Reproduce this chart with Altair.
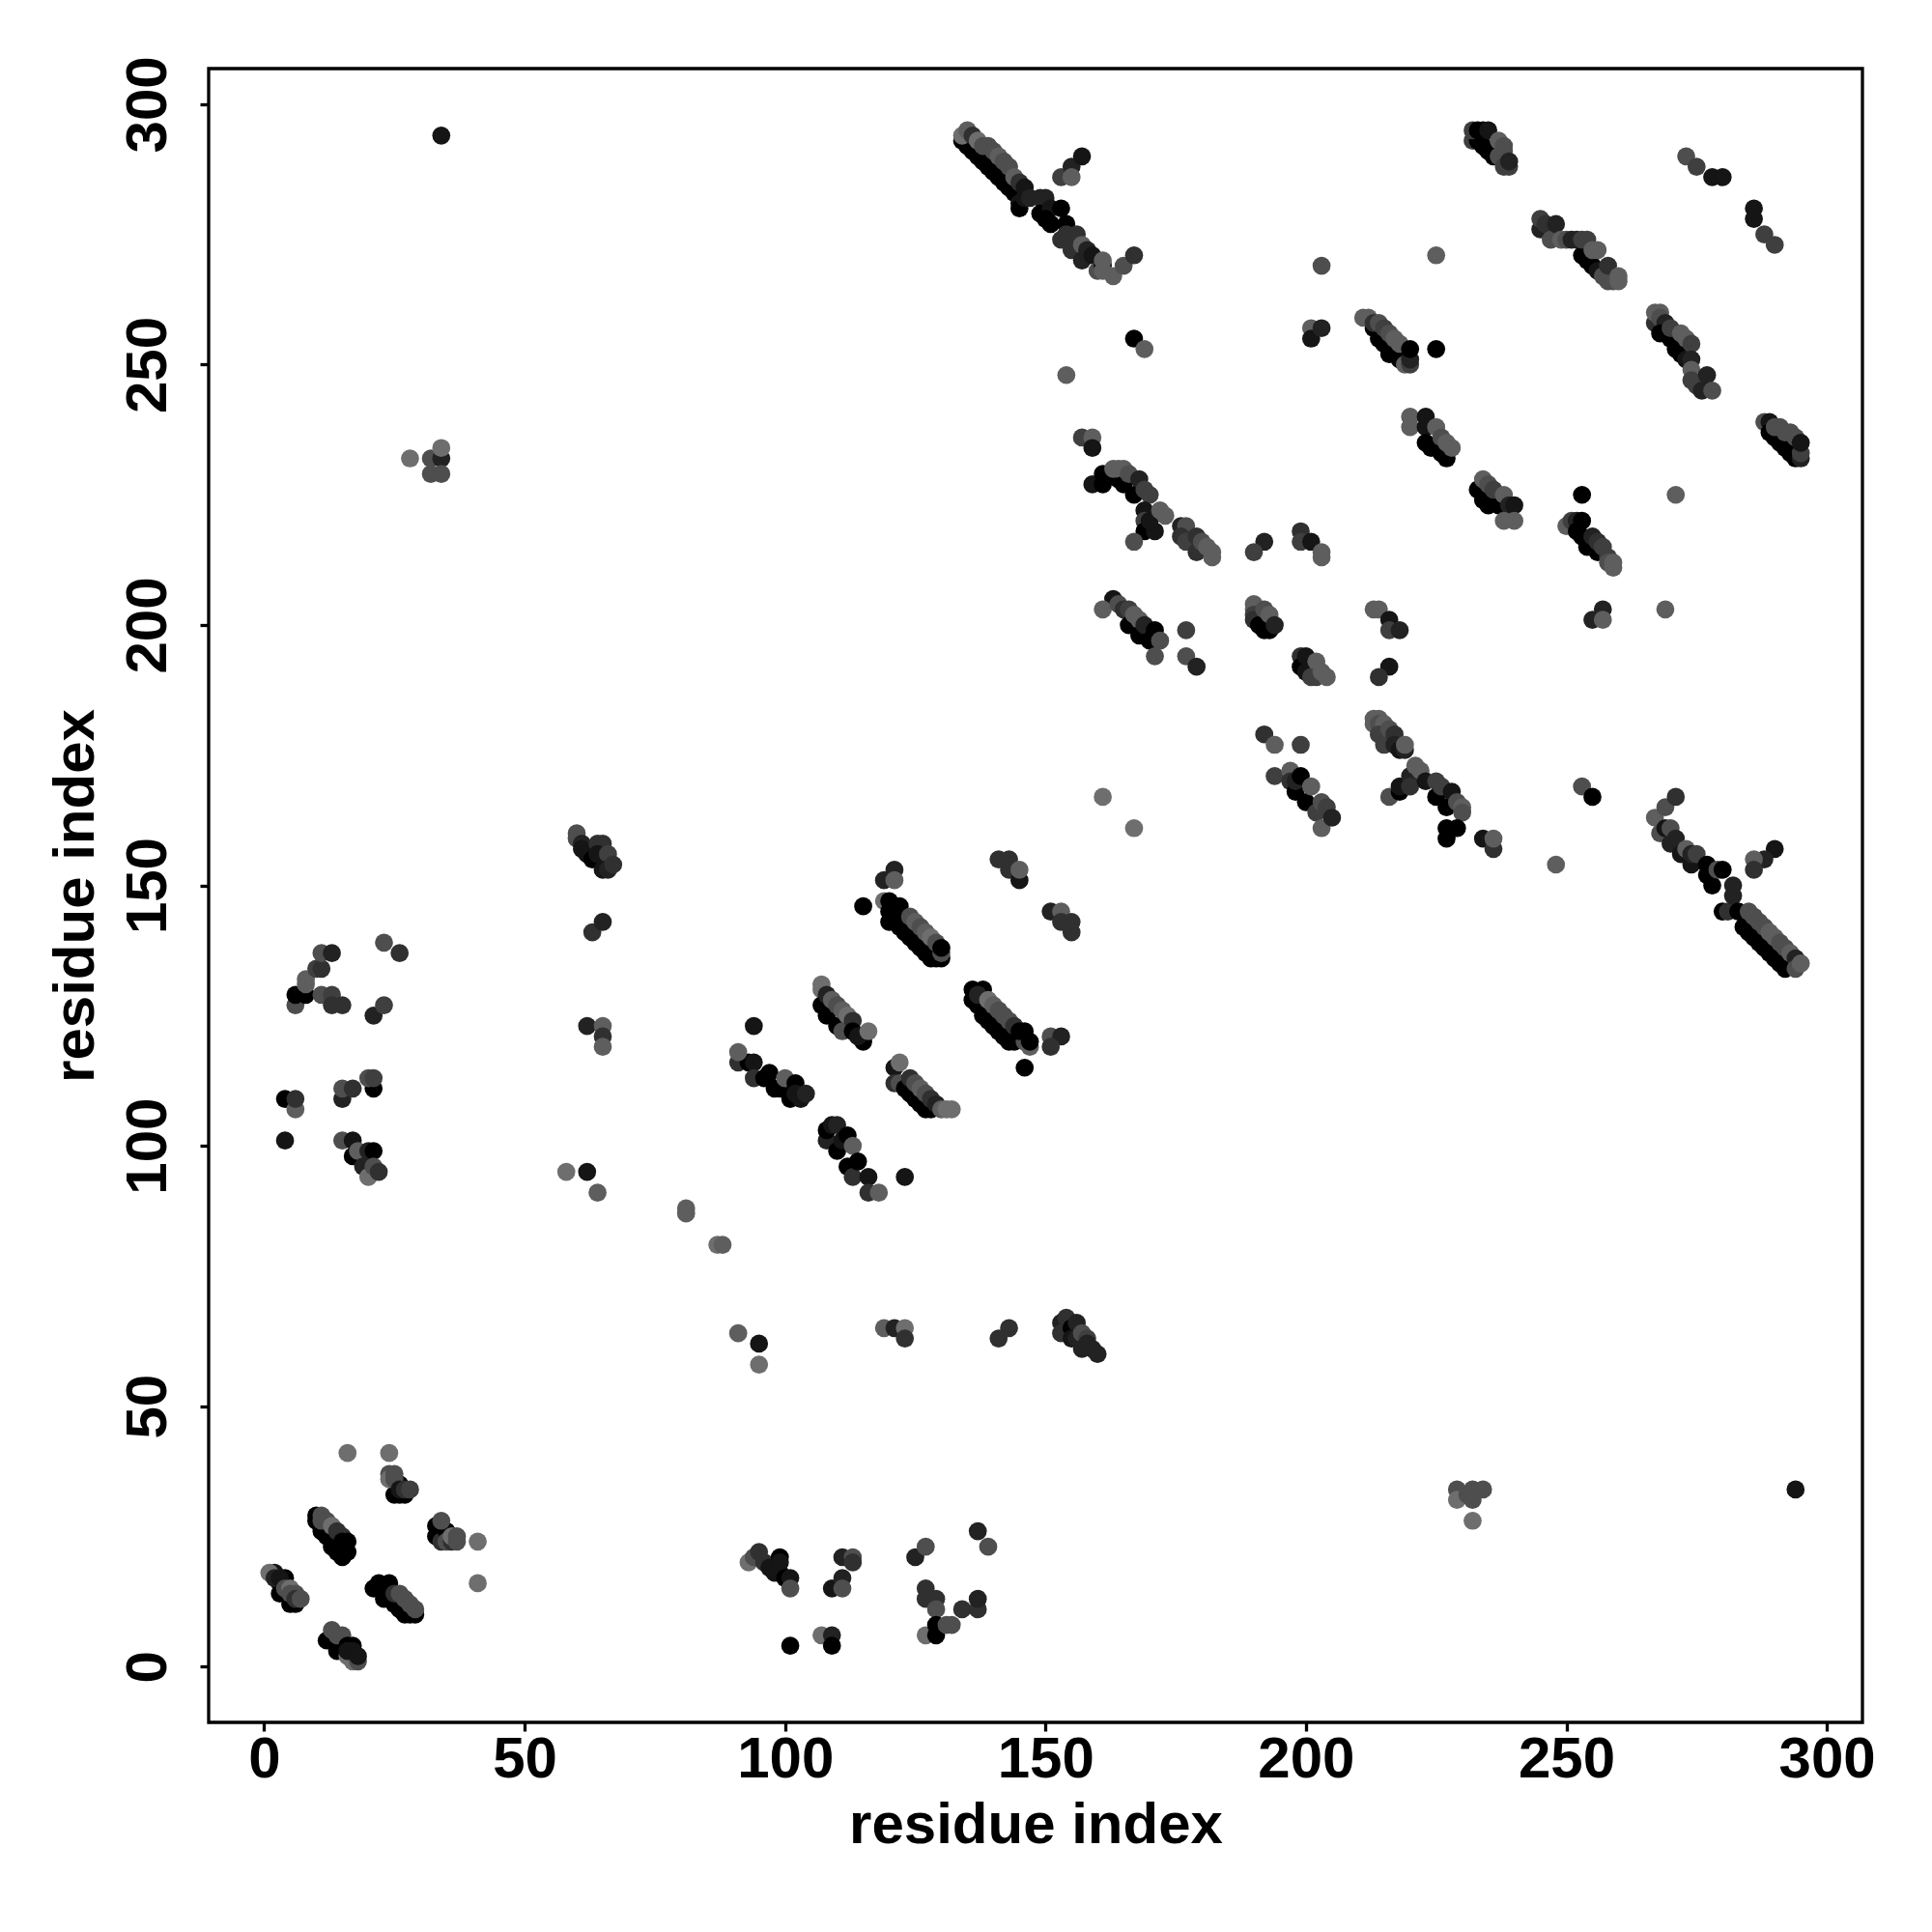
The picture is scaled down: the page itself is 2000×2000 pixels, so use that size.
import altair as alt
import pandas as pd

# Each cluster: (residue i, residue j, level) - level 0 is darkest, 7 is lightest
low_a = [(3,16,1),(3,14,0),(4,17,0),(2,18,1),(5,12,0),(6,12,0),(1,18,7),(2,17,2),(3,17,1),(4,15,5),(5,15,7),(5,14,5),(6,14,5),(6,13,3),(7,13,5)]
low_b = [(12,5,0),(14,3,0),(16,2,7),(17,1,7),(18,1,5),(13,6,0),(13,7,5),(14,6,5),(15,6,5),(16,4,0),(17,4,0),(16,3,1),(17,3,1),(18,2,1)]
low_c = [(10,28,0),(10,29,0),(11,26,0),(12,25,0),(13,23,0),(14,22,0),(15,21,0),(16,22,0),(15,23,0),(11,29,5),(11,28,5),(12,28,5),(13,27,7),(14,26,3),(15,25,3),(15,24,0),(16,24,0)]
low_d = [(21,15,0),(22,16,0),(23,15,0),(24,16,0),(23,13,0),(24,14,0),(25,12,0),(26,11,0),(27,10,0),(28,10,0),(29,10,0),(25,14,3),(26,14,5),(27,13,5),(28,12,5),(29,11,5)]
low_e = [(25,33,0),(26,33,0),(27,33,0),(26,35,0),(24,37,5),(24,36,7),(25,37,5),(25,36,5),(26,34,1),(27,34,3),(28,34,4)]
low_f = [(33,27,0),(33,25,0),(34,26,0),(34,24,3),(35,26,0),(35,24,5),(36,24,3),(34,28,5),(36,25,7),(37,25,5),(37,24,5),(41,24,7),(41,16,7),(16,41,7),(24,41,7)]
low_mid = [(93,20,7),(94,21,5),(95,22,3),(96,20,3),(97,19,1),(98,18,1),(99,21,0),(99,20,1),(99,18,1),(100,17,0),(101,17,1),(101,15,5),(101,4,0),
           (109,15,1),(111,21,2),(111,17,2),(111,15,5),(113,21,5),(113,20,3),(107,6,7),(109,6,2),(109,4,0),
           (125,21,2),(127,23,5),(127,15,3),(127,13,3),(129,13,3),(129,11,5),(127,6,7),(129,8,0),(129,6,0),(131,8,5),(132,8,5),(134,11,3),(137,11,3),(137,13,2),(137,26,2),(139,23,5)]
low_right = [(229,34,5),(229,32,7),(231,33,5),(232,34,5),(232,32,5),(234,34,5),(232,28,7),(294,34,1)]
top_far = [(34,294,1),(28,232,7),(32,232,5),(32,229,5),(34,232,2),(34,234,7),(34,229,5)]
left_a = [(6,127,5),(6,129,0),(8,129,0),(8,131,6),(8,132,6),(10,134,4),(11,134,3),(11,137,5),(13,137,2),(11,129,5),(13,129,4),(13,127,3),(15,127,3),(21,125,2),(23,127,4),(23,139,5),(26,137,3)]
left_b = [(4,109,0),(6,107,6),(6,109,3),(4,101,1),(15,109,2),(15,111,5),(17,111,3),(21,111,0),(20,113,5),(21,113,4),(15,101,5),(17,101,1),(17,98,0),(18,99,6),(19,96,2),(20,99,2),(21,99,0),(20,94,7),(21,96,5),(22,95,3)]
left_c = [(62,123,2),(65,123,6),(65,121,3),(65,119,6),(63,141,3),(65,143,2),(60,160,5),(60,159,5),(61,158,2),(61,157,1),(62,156,1),(63,155,0),(64,158,3),(65,158,3),(64,156,1),(66,156,4),(65,153,1),(66,153,2),(67,154,3)]
mid_left = [(58,95,7),(62,95,1),(64,91,6),(81,88,6),(81,87,6),(87,81,7),(88,81,6),(91,64,6),(95,62,1),(95,58,7)]
low_mid2 = [(119,65,6),(121,65,2),(123,65,7),(123,63,3),(141,63,3),(143,65,3),
            (153,66,2),(153,64,3),(154,67,3),(155,65,0),(155,63,1),(156,66,2),(156,63,2),(157,64,5),(157,61,2),(158,63,4),(158,62,2),(159,61,2),(160,60,2)]
band_a = [(94,123,1),(91,116,3),(93,116,0),(94,116,1),(94,113,3),(91,118,6),(96,113,0),(97,114,0),(98,111,0),(99,111,0),(100,112,0),(100,113,6),(101,109,0),(102,112,0),(102,110,1),(103,109,1),(104,110,2)]
band_b = [(108,101,2),(108,103,0),(109,104,1),(110,104,2),(110,99,0),(111,101,1),(112,102,0),(112,96,0),(113,100,6),(113,94,3),(114,97,0),(116,94,1),(116,91,3),(118,91,6),(123,94,1)]
band_c = [(107,131,7),(107,130,7),(107,127,0),(108,129,2),(108,125,0),(109,128,6),(110,123,0),(110,127,5),(111,126,6),(112,125,7),(111,122,5),(113,124,3),(113,122,0),(115,120,0),(114,121,1),(116,122,7)]
band_d = [(121,115,1),(121,112,3),(122,116,7),(122,112,5),(123,111,0),(124,110,0),(125,109,0),(126,108,0),(127,107,0),(128,107,0),(124,113,3),(125,112,5),(126,111,6),(127,110,5),(128,109,3),(129,108,2),(130,107,6),(131,107,7),(132,107,7)]
band_e = [(115,146,0),(119,151,2),(121,153,2),(121,151,6),(119,147,7),(120,147,0),(120,145,0),(120,143,0),(122,146,0),(121,144,0),(122,142,0),(123,141,0),(124,140,0),(125,139,0),(126,138,0),(127,137,0),(128,136,0),(129,136,0),(130,136,0),
          (124,144,5),(125,143,6),(126,142,5),(127,141,6),(128,140,7),(129,139,5),(130,137,5),(130,138,0)]
band_f = [(141,155,3),(143,155,3),(143,153,3),(145,151,1),(145,153,6),(151,145,2),(153,145,6),(153,143,3),(155,143,3),(155,141,3),(151,121,5),(153,121,2),(151,119,3),(167,161,7),(161,167,7)]
band_g = [(136,130,0),(138,130,0),(136,128,0),(137,127,0),(138,125,0),(139,124,0),(140,123,0),(141,122,0),(142,121,0),(143,120,0),(144,120,0),(146,120,5),(147,119,6),
          (137,129,2),(139,128,7),(140,127,6),(141,126,5),(142,125,5),(143,124,5),(144,123,3),(145,122,0),(146,122,0),(147,120,0),(146,115,0)]
diag_a = [(134,293,0),(135,292,0),(136,291,0),(137,290,0),(138,289,0),(139,288,0),(140,287,0),(141,286,0),(142,285,0),(143,284,0),(144,283,0),(145,281,1),(145,280,0),
          (134,294,7),(135,295,6),(136,294,3),(137,293,7),(138,292,5),(139,292,5),(140,291,5),(141,290,6),(142,289,5),(143,288,5),(144,286,6),(145,285,3),(146,284,1),(146,282,1)]
diag_b = [(147,282,2),(149,282,2),(150,282,2),(149,279,0),(151,280,1),(150,278,0),(153,280,0),(151,277,0),(153,274,3),(154,277,0),(154,275,3),(155,272,3),(156,275,3),(157,273,6),(157,270,2),(158,272,2),(159,271,1),(160,268,5),(161,269,0),(161,268,6),(161,270,6),(163,267,6),(165,269,5),(167,271,3),
          (153,286,4),(155,288,2),(155,286,6),(157,290,1),(167,255,0),(169,253,6),(154,248,6),(157,236,4),(159,236,6),(159,234,1)]
diag_c = [(159,227,1),(161,227,0),(161,229,0),(162,229,0),(164,228,0),(163,230,6),(164,230,6),(165,227,0),(165,230,6),(166,229,5),(167,225,0),(168,228,2),(169,226,4),(170,225,4),(169,222,1),(169,220,4),(169,218,0),(171,218,1),(170,220,1),(167,216,5),(172,222,6),(173,221,6),
          (176,219,2),(177,219,5),(176,217,3),(177,216,4),(179,214,3),(179,217,3),(180,216,5),(181,215,6),(182,214,6),(182,213,6),(192,216,2),(190,214,4),(199,218,3),(199,216,4),(201,216,1),(203,214,6),(203,213,6)]
diag_d = [(163,205,1),(161,203,6),(164,204,5),(165,203,3),(166,203,4),(166,200,0),(167,202,6),(168,201,6),(168,198,0),(169,200,2),(170,197,0),(171,199,0),(172,197,5),(171,194,5),(177,199,4),(177,194,5),(179,192,2)]
diag_e = [(190,204,6),(190,203,6),(190,202,4),(190,201,3),(191,200,0),(192,199,0),(192,203,5),(193,199,0),(193,202,6),(194,200,2),
          (199,194,3),(199,192,0),(200,194,1),(200,191,1),(201,190,4),(202,193,6),(202,190,4),(203,191,6),(204,190,6),
          (213,203,6),(214,203,6),(216,201,1),(216,199,4),(218,199,2),(216,192,1),(214,190,3)]
diag_f = [(192,179,3),(194,177,6),(199,177,4),(194,171,4),(197,172,6),(197,170,3),(198,168,0),(198,170,2),(199,171,0),(200,166,0),(201,169,6),(202,164,4),(203,166,5),(203,161,6),(204,165,4),(205,163,2),
          (213,182,6),(214,182,6),(213,181,6),(214,181,5),(215,181,6),(214,179,4),(215,177,4),(216,180,5),(217,179,3),(217,177,2),(218,176,1),(219,176,2),(219,177,6)]
diag_g = [(216,167,5),(218,168,0),(218,169,1),(220,171,2),(220,169,3),(221,173,6),(222,172,6),(223,170,1),(225,170,4),(225,167,0),(226,169,4),(227,165,0),(228,168,1),(229,166,5),(230,165,6),(230,164,5),(227,161,0),(229,161,0),(227,159,0),(234,159,1),(236,157,3),(236,159,6),(248,154,6),(253,169,5),(255,167,0)]
diag_h = [(267,163,6),(268,160,5),(269,161,1),(269,165,5),(271,167,3),(270,158,2),(270,161,5),(271,159,2),(272,156,1),(273,157,6),(274,154,1),(274,156,2),(275,156,4),(277,154,0),(277,152,0),(278,150,0),(279,153,5),(280,153,0),(280,145,0),(281,145,3),(282,150,2),(282,148,2),(283,145,0),
          (284,142,0),(285,141,0),(286,140,0),(287,139,0),(288,138,0),(289,137,0),(290,136,0),(291,135,0),(292,134,0),(285,145,5),(286,144,5),(287,143,5),(288,142,5),(289,141,6),(290,140,6),(291,139,5),(292,138,5),(293,137,6),(294,136,2),(294,134,5),(295,135,6),
          (290,157,1),(288,155,2),(286,155,6),(286,153,3)]
top_a = [(232,293,4),(233,293,0),(234,292,0),(235,291,0),(236,290,0),(232,295,4),(233,295,0),(234,295,0),(235,295,1),(237,293,6),(238,292,5),(238,291,5),(237,290,5),(238,288,4),(239,288,4),(239,289,2)]
top_b = [(273,290,5),(275,288,4),(278,286,1),(280,286,1),(286,280,1),(286,278,1),(288,275,4),(290,273,4),(225,271,6),(203,269,5),(201,257,6),(201,255,1),(203,257,2)]
top_c = [(245,276,2),(245,278,4),(246,277,3),(247,274,5),(248,277,2),(249,274,6),(250,274,5),(251,274,2),(252,274,2),(253,271,0),(254,270,0),(255,269,0),(256,268,1),(257,267,5),(258,266,5),(259,266,5),(253,274,4),(254,274,4),(255,272,6),(256,272,6),(258,269,3),(260,267,6),(260,266,6)]
top_d = [(213,257,0),(214,255,0),(215,254,0),(216,252,0),(217,252,0),(218,251,0),(211,259,6),(212,259,6),(213,258,3),(214,258,5),(215,257,4),(216,256,5),(217,255,6),(218,254,6),(219,250,6),(220,250,4),(220,251,2),(220,253,0),(225,253,0)]
top_e = [(267,258,3),(267,260,6),(268,260,6),(268,259,5),(269,258,2),(268,256,0),(270,255,0),(271,253,0),(272,252,0),(273,251,1),(270,257,4),(272,256,6),(273,255,6),(274,254,4),(274,251,2),(274,249,6),(274,247,4),(275,246,4),(276,245,2),(277,248,2),(278,245,5)]
top_f = [(220,240,6),(220,238,6),(223,240,1),(223,238,1),(223,235,0),(224,234,0),(225,238,6),(226,236,5),(226,233,0),(227,232,0),(227,235,6),(228,234,6),
         (233,226,0),(234,224,0),(235,223,0),(237,223,0),(234,228,6),(235,227,5),(236,226,4),(238,225,6),(239,223,2),(240,223,1),(238,220,6),(240,220,6)]
top_g = [(253,225,0),(271,225,6),(250,219,6),(251,220,4),(252,220,2),(252,218,0),(253,220,0),(253,217,0),(254,215,0),(255,217,2),(256,214,0),(256,216,3),(257,215,4),(258,213,4),(258,212,5),(259,212,6),(259,211,6),(255,201,2),(257,203,2),(257,201,6),(269,203,6)]
top_h = [(288,239,5),(289,239,1),(289,237,0),(290,236,0),(291,235,0),(292,234,0),(293,233,0),(294,232,0),(295,232,2),(290,238,5),(291,238,5),(292,237,5),(293,237,5),(294,236,5),(295,233,4),(295,235,1)]

clusters = [low_a, low_b, low_c, low_d, low_e, low_f, low_mid, low_right, top_far, left_a, left_b, left_c, mid_left, low_mid2,
            band_a, band_b, band_c, band_d, band_e, band_f, band_g, diag_a, diag_b, diag_c, diag_d, diag_e, diag_f, diag_g, diag_h,
            top_a, top_b, top_c, top_d, top_e, top_f, top_g, top_h]
rows = [p for c in clusters for p in c]
df = pd.DataFrame(rows, columns=["i", "j", "level"])

x_ticks = [0, 50, 100, 150, 200, 250, 300]
y_ticks = [0, 50, 100, 150, 200, 250, 300]
FONT = "Liberation Sans"

chart = alt.Chart(df).mark_circle(size=350, opacity=1).encode(
    x=alt.X("i:Q", scale=alt.Scale(domain=[-10.66, 306.84], nice=False, zero=False),
            axis=alt.Axis(values=x_ticks, title="residue index", grid=False, domain=False,
                          tickSize=9, tickWidth=3.3, tickColor="black",
                          labelFont=FONT, labelFontSize=60, labelFontWeight="bold", labelColor="black",
                          labelPadding=0, labelFlush=False, labelOverlap=False,
                          titleFont=FONT, titleFontSize=60, titleFontWeight="bold", titleColor="black",
                          titlePadding=9)),
    y=alt.Y("j:Q", scale=alt.Scale(domain=[-10.72, 306.85], nice=False, zero=False),
            axis=alt.Axis(values=y_ticks, title="residue index", grid=False, domain=False,
                          tickSize=9, tickWidth=3.3, tickColor="black",
                          labelFont=FONT, labelFontSize=60, labelFontWeight="bold", labelColor="black",
                          labelAngle=270, labelAlign="center", labelBaseline="alphabetic",
                          labelPadding=36, labelFlush=False, labelOverlap=False,
                          titleFont=FONT, titleFontSize=60, titleFontWeight="bold", titleColor="black",
                          titlePadding=14)),
    color=alt.Color("level:Q", scale=alt.Scale(domain=[0, 7], range=["#000000", "#6e6e6e"]), legend=None),
).properties(
    width=1712, height=1712,
    background="white",
    autosize=alt.AutoSizeParams(type="none"),
    padding={"left": 208, "top": 63, "right": 60, "bottom": 200},
).configure_view(stroke="black", strokeWidth=3.3, fill="white")

chart.save("out.html", embed_options={"renderer": "svg", "actions": False})
